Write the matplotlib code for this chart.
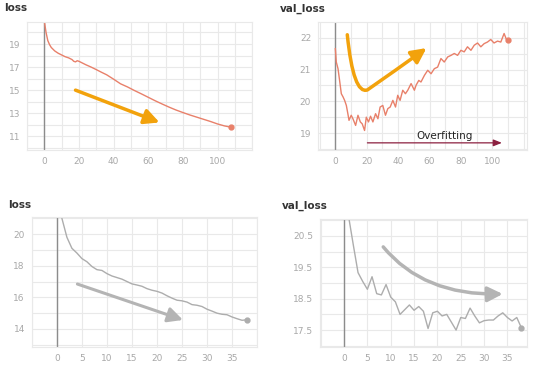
import matplotlib
matplotlib.use('Agg')
import matplotlib.pyplot as plt
from matplotlib.patches import FancyArrowPatch
from matplotlib.path import Path

# --- data ---
# top row: long run (orange)
run1_loss_ep = [0, 1, 2, 3, 4, 6, 8, 10, 12, 14, 16, 17, 18, 19, 20, 22, 24, 27, 30, 33, 36,
                40, 44, 48, 52, 56, 60, 64, 68, 72, 76, 80, 84, 88, 92, 96, 100, 104, 108]
run1_loss = [20.98, 20.0, 19.3, 18.95, 18.7, 18.4, 18.2, 18.05, 17.9, 17.8, 17.65, 17.5, 17.45,
             17.55, 17.5, 17.35, 17.2, 17.0, 16.78, 16.55, 16.33, 15.95, 15.55, 15.28, 14.97,
             14.68, 14.38, 14.08, 13.8, 13.53, 13.28, 13.06, 12.85, 12.66, 12.47, 12.28, 12.07,
             11.9, 11.78]

run1_val_ep = [0, 0.6, 1.7, 2.7, 3.8, 4.9, 5.9, 7, 8, 8.7, 10.1, 11.2, 12.9, 14.4, 15.9, 17.1,
               18.6, 19.7, 21.1, 22.4, 23.9, 25.6, 27.1, 28.5, 30.2, 31.9, 33.4, 34.9, 36.6,
               38.3, 39.7, 41.2, 42.9, 44.6, 46.1, 48.2, 50.3, 51.4, 53.1, 54.5, 56.7, 58.8,
               60.9, 63, 65.1, 67.2, 69.3, 71.5, 73.6, 75.7, 77.8, 79.9, 82, 84.1, 86.3, 88.4,
               90.5, 92.6, 94.7, 96.8, 98.9, 101, 103.2, 105.3, 107.4, 108.9, 110]
run1_val = [21.66, 21.24, 21.03, 20.66, 20.24, 20.14, 20.03, 19.87, 19.6, 19.4, 19.56, 19.45,
            19.24, 19.56, 19.35, 19.29, 19.08, 19.5, 19.35, 19.53, 19.35, 19.61, 19.45, 19.82,
            19.87, 19.56, 19.77, 19.82, 20.03, 19.82, 20.19, 20.03, 20.35, 20.24, 20.35, 20.56,
            20.35, 20.51, 20.66, 20.61, 20.82, 20.98, 20.87, 21.03, 21.08, 21.35, 21.24, 21.4,
            21.45, 21.51, 21.45, 21.61, 21.56, 21.72, 21.61, 21.77, 21.84, 21.72, 21.82, 21.87,
            21.95, 21.84, 21.9, 21.87, 22.14, 21.95, 21.93]

# bottom row: short run (gray)
run2_ep = list(range(39))
run2_loss = [22.5, 21.0, 19.8, 19.1, 18.8, 18.45, 18.25, 17.95, 17.75, 17.7, 17.5, 17.35, 17.25,
             17.15, 17.0, 16.85, 16.78, 16.7, 16.55, 16.45, 16.38, 16.27, 16.1, 15.95, 15.82,
             15.78, 15.7, 15.54, 15.5, 15.42, 15.25, 15.13, 15.0, 14.93, 14.9, 14.76, 14.65,
             14.55, 14.58]
run2_val = [22.5, 21.1, 20.2, 19.33, 19.05, 18.8, 19.2, 18.66, 18.62, 18.95, 18.55, 18.4, 18.0,
            18.15, 18.3, 18.13, 18.25, 18.1, 17.55, 18.05, 18.1, 17.95, 18.0, 17.75, 17.5, 17.9,
            17.87, 18.2, 17.95, 17.73, 17.8, 17.82, 17.82, 17.95, 18.05, 17.9, 17.79, 17.9, 17.57]

ORANGE_LINE = '#e8806a'
ARROW_ORANGE = '#f2a20c'
GRAY_LINE = '#adadad'
GRAY_ARROW = '#b4b4b4'
GRID = '#e9e9e9'
TICK = '#a8a8a8'

fig = plt.figure(figsize=(5.4, 3.68), dpi=100)
fig.patch.set_facecolor('white')


def panel(rect, x, y, color, xlim, ylim, xticks, yticks, xminor, yminor, ylabels=None):
    ax = fig.add_axes(rect)
    ax.set_xlim(*xlim)
    ax.set_ylim(*ylim)
    ax.set_xticks(xticks)
    ax.set_yticks(yticks)
    if ylabels is not None:
        ax.set_yticklabels(ylabels)
    ax.set_xticks(xminor, minor=True)
    ax.set_yticks(yminor, minor=True)
    ax.grid(True, which='both', color=GRID, lw=0.8)
    ax.tick_params(which='both', length=0, labelsize=6.5, labelcolor=TICK, pad=5)
    for s in ax.spines.values():
        s.set_color(GRID)
    ax.axvline(0, color='#8c8c8c', lw=1.0)
    ax.plot(x, y, color=color, lw=1.0)
    ax.plot(x[-1], y[-1], 'o', color=color, ms=3.5)
    ax.set_axisbelow(True)
    return ax


ax1 = panel([0.05, 0.592, 0.417, 0.348], run1_loss_ep, run1_loss, ORANGE_LINE,
            (-10, 120), (9.8, 20.9), range(0, 101, 20), [11, 13, 15, 17, 19],
            range(-10, 121, 10), range(10, 21, 1))
ax2 = panel([0.589, 0.592, 0.387, 0.348], run1_val_ep, run1_val, ORANGE_LINE,
            (-11, 122), (18.46, 22.5), range(0, 101, 20), [19, 20, 21, 22],
            range(-10, 121, 10), [18.5, 19, 19.5, 20, 20.5, 21, 21.5, 22])
ax3 = panel([0.059, 0.057, 0.417, 0.353], run2_ep, run2_loss, GRAY_LINE,
            (-4.8, 40), (12.86, 21.07), range(0, 36, 5), [14, 16, 18, 20],
            range(-5, 41, 5), range(13, 22, 1))
ax4 = panel([0.593, 0.057, 0.383, 0.348], run2_ep, run2_val, GRAY_LINE,
            (-5.1, 39.2), (16.96, 21.04), range(0, 36, 5), [17.5, 18.5, 19.5, 20.5],
            range(-5, 40, 5), [17, 17.5, 18, 18.5, 19, 19.5, 20, 20.5, 21],
            ylabels=['17.5', '18.5', '19.5', '20.5'])

# titles
for tx, ty, t in [(0.008, 0.978, 'loss'), (0.519, 0.975, 'val_loss'),
                  (0.015, 0.443, 'loss'), (0.522, 0.44, 'val_loss')]:
    fig.text(tx, ty, t, fontsize=7.5, color='#333333', fontweight='bold', va='center')

# annotation arrows
ax1.annotate('', xy=(66.5, 12.2), xytext=(18, 15.0),
             arrowprops=dict(arrowstyle='-|>,head_length=0.9,head_width=0.45',
                             color=ARROW_ORANGE, lw=2.5, shrinkA=0, shrinkB=0))

p = Path([(7.6, 22.1), (11.5, 20.2), (20.4, 20.36), (39, 21.0), (58, 21.68)],
         [Path.MOVETO, Path.CURVE3, Path.CURVE3, Path.CURVE3, Path.CURVE3])
ax2.add_patch(FancyArrowPatch(path=p, arrowstyle='-|>,head_length=0.9,head_width=0.45',
                              color=ARROW_ORANGE, lw=2.5, mutation_scale=10))
ax2.annotate('', xy=(106, 18.69), xytext=(20.4, 18.69),
             arrowprops=dict(arrowstyle='-|>,head_length=0.5,head_width=0.2',
                             color='#8c2040', lw=0.9, shrinkA=0, shrinkB=0))
ax2.text(51.6, 18.9, 'Overfitting', fontsize=7.5, color='#222222', va='center')

ax3.annotate('', xy=(25.2, 14.57), xytext=(4.1, 16.84),
             arrowprops=dict(arrowstyle='-|>,head_length=0.9,head_width=0.45',
                             color=GRAY_ARROW, lw=2.2, shrinkA=0, shrinkB=0))

p2 = Path([(8.4, 20.15), (17, 18.6), (34, 18.65)], [Path.MOVETO, Path.CURVE3, Path.CURVE3])
ax4.add_patch(FancyArrowPatch(path=p2, arrowstyle='-|>,head_length=0.9,head_width=0.45',
                              color=GRAY_ARROW, lw=2.5, mutation_scale=10))

fig.savefig('out.png', dpi=100)
